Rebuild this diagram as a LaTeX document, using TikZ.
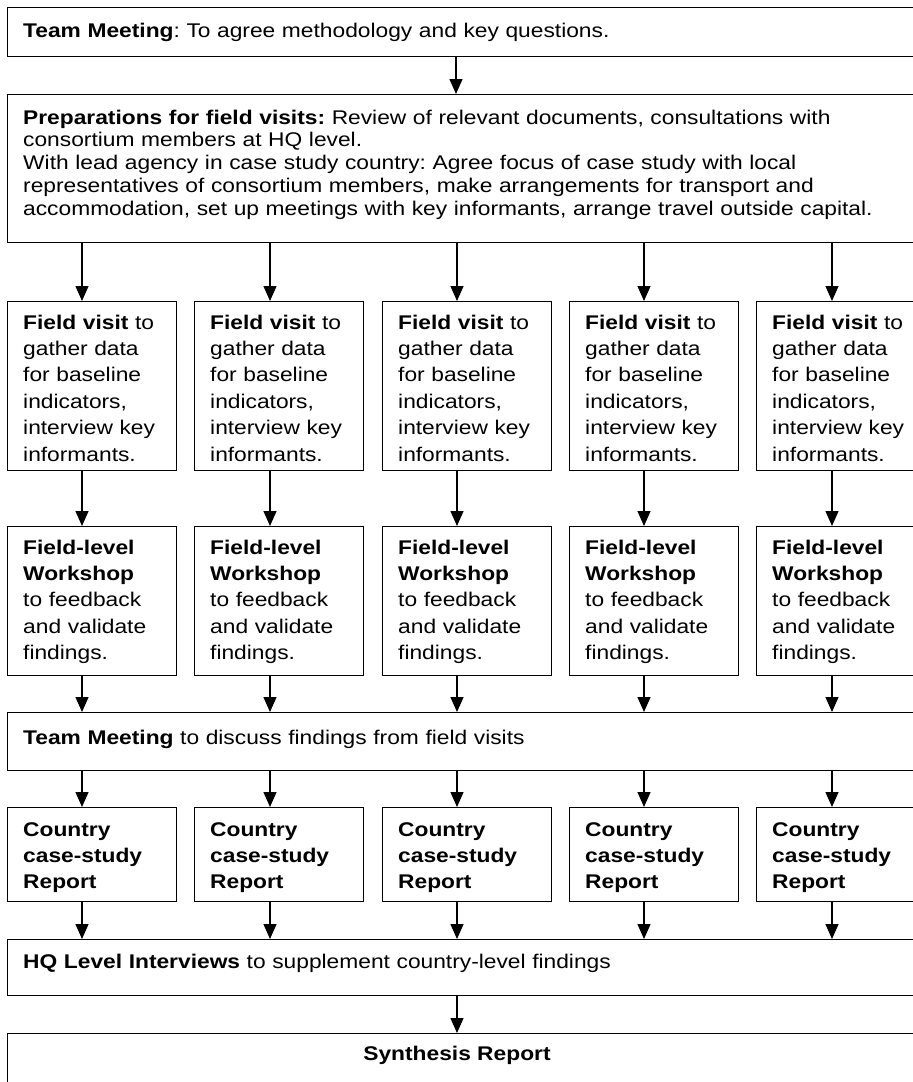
\documentclass[tikz,border=0pt]{standalone}
\usepackage{fontspec}
\setmainfont{Liberation Sans}[FakeStretch=1.15]
\usetikzlibrary{arrows.meta}
\frenchspacing
\begin{document}
\begin{tikzpicture}[x=1pt,y=-1pt,
  box/.style={draw, line width=1.3pt, inner sep=0pt, anchor=north west},
  wide/.style={box, minimum width=923pt},
  small/.style={box, minimum width=169pt},
  arr/.style={line width=1.3pt, -{Triangle[length=15pt,width=13pt]}},
  txtA/.style={inner sep=0pt, anchor=base west, align=left, text width=885pt, font=\fontsize{19.8}{22.8}\selectfont},
  txtB/.style={inner sep=0pt, anchor=base west, align=left, text width=152pt, font=\fontsize{19.8}{26.4}\selectfont}]
\useasboundingbox (0,0) rectangle (913,1082);
% column coordinates
\coordinate (k0) at (456,0);
\coordinate (k1) at (82,0);
\coordinate (k2) at (270,0);
\coordinate (k3) at (457,0);
\coordinate (k4) at (644,0);
\coordinate (k5) at (832,0);
% wide boxes
\node[wide, minimum height=49pt] (top) at (7,7) {};
\node[wide, minimum height=148pt] (prep) at (7,94) {};
\node[wide, minimum height=58pt] (tm2) at (7,712) {};
\node[wide, minimum height=56pt] (hq) at (7,939) {};
\node[wide, minimum height=80pt] (syn) at (7,1033) {};
% texts of wide boxes
\node[txtA] (ttop) at (23,37) {\textbf{Team Meeting}: To agree methodology and key questions.};
\node[txtA] (tprep) at (23,124) {\textbf{Preparations for field visits:} Review of relevant documents, consultations with\\
consortium members at HQ level.\\
With lead agency in case study country: Agree focus of case study with local\\
representatives of consortium members, make arrangements for transport and\\
accommodation, set up meetings with key informants, arrange travel outside capital.};
\node[txtA] (ttm2) at (23,744) {\textbf{Team Meeting} to discuss findings from field visits};
\node[txtA] (thq) at (23,968) {\textbf{HQ Level Interviews} to supplement country-level findings};
\node[txtA, text width=, anchor=base] (tsyn) at (457,1060) {\textbf{Synthesis Report}};
% small boxes
\foreach \i/\x in {1/7,2/194,3/382,4/569,5/756}{
  \node[small, minimum height=169pt] (fv\i) at (\x,301) {};
  \node[small, minimum height=149pt] (ws\i) at (\x,526) {};
  \node[small, minimum height=94pt] (cr\i) at (\x,807) {};
  \node[txtB] (tfv\i) at (\x+16,329) {\textbf{Field visit} to\\gather data\\for baseline\\indicators,\\interview key\\informants.};
  \node[txtB] (tws\i) at (\x+16,554) {\textbf{Field-level}\\\textbf{Workshop}\\to feedback\\and validate\\findings.};
  \node[txtB] (tcr\i) at (\x+16,836) {\textbf{Country}\\\textbf{case-study}\\\textbf{Report}};
}
% connectors
\draw[arr] (top.south -| k0) -- (prep.north -| k0);
\foreach \i in {1,...,5}{
  \draw[arr] (prep.south -| k\i) -- (fv\i.north -| k\i);
  \draw[arr] (fv\i.south -| k\i) -- (ws\i.north -| k\i);
  \draw[arr] (ws\i.south -| k\i) -- (tm2.north -| k\i);
  \draw[arr] (tm2.south -| k\i) -- (cr\i.north -| k\i);
  \draw[arr] (cr\i.south -| k\i) -- (hq.north -| k\i);
}
\draw[arr] (hq.south -| k3) -- (syn.north -| k3);
\end{tikzpicture}
\end{document}
